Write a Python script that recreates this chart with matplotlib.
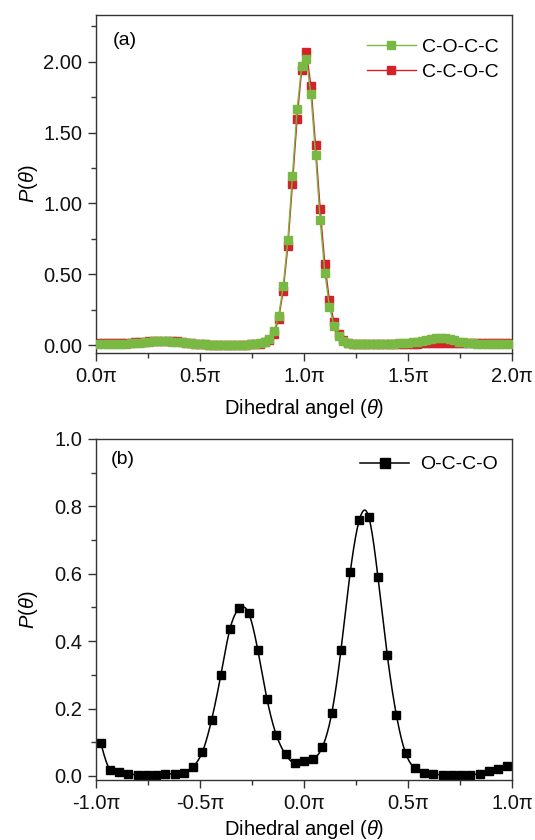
import numpy as np
import matplotlib
matplotlib.use("Agg")
import matplotlib.pyplot as plt
from matplotlib.ticker import MultipleLocator, FuncFormatter

plt.rcParams['font.family'] = ['Liberation Sans', 'DejaVu Sans']
plt.rcParams['mathtext.fontset'] = 'custom'
plt.rcParams['mathtext.rm'] = 'Liberation Sans'
plt.rcParams['mathtext.it'] = 'Liberation Sans:italic'

# ---------------- data: panel (a), angles in degrees (bin centres) ----------------
angles_a = np.arange(2, 360, 4)  # 90 bins
coc_c = np.array([  # C-O-C-C (green)
    0.009, 0.009, 0.009, 0.009, 0.010, 0.010, 0.011, 0.012, 0.014, 0.017,
    0.020, 0.023, 0.026, 0.028, 0.028, 0.027, 0.025, 0.022, 0.019, 0.016,
    0.013, 0.010, 0.008, 0.006, 0.004, 0.003, 0.002, 0.002, 0.002, 0.002,
    0.002, 0.003, 0.004, 0.006, 0.008, 0.012, 0.022, 0.044, 0.096, 0.202,
    0.414, 0.743, 1.195, 1.663, 1.971, 2.018, 1.769, 1.345, 0.880, 0.512,
    0.272, 0.136, 0.061, 0.030, 0.015, 0.010, 0.008, 0.008, 0.008, 0.008,
    0.008, 0.008, 0.009, 0.010, 0.011, 0.012, 0.014, 0.016, 0.019, 0.023,
    0.028, 0.035, 0.042, 0.047, 0.049, 0.047, 0.041, 0.033, 0.025, 0.019,
    0.015, 0.012, 0.011, 0.010, 0.009, 0.009, 0.009, 0.009, 0.009, 0.009])
ccoc = np.array([  # C-C-O-C (red)
    0.014, 0.014, 0.014, 0.014, 0.015, 0.015, 0.016, 0.017, 0.019, 0.022,
    0.025, 0.028, 0.031, 0.032, 0.032, 0.031, 0.029, 0.026, 0.022, 0.018,
    0.014, 0.011, 0.008, 0.006, 0.004, 0.003, 0.002, 0.002, 0.002, 0.002,
    0.003, 0.003, 0.004, 0.005, 0.007, 0.010, 0.020, 0.035, 0.080, 0.183,
    0.383, 0.696, 1.136, 1.597, 1.943, 2.070, 1.830, 1.410, 0.960, 0.574,
    0.315, 0.160, 0.075, 0.035, 0.018, 0.010, 0.007, 0.006, 0.006, 0.006,
    0.006, 0.006, 0.006, 0.006, 0.007, 0.007, 0.008, 0.009, 0.010, 0.011,
    0.013, 0.015, 0.017, 0.018, 0.018, 0.017, 0.015, 0.014, 0.013, 0.012,
    0.012, 0.012, 0.012, 0.012, 0.012, 0.012, 0.012, 0.012, 0.012, 0.012])

# ---------------- data: panel (b) ----------------
angles_b = np.arange(-176, 180, 8)  # 45 bins
occo = np.array([
    0.099, 0.018, 0.011, 0.006, 0.004, 0.003, 0.003, 0.005, 0.007, 0.010,
    0.028, 0.071, 0.166, 0.299, 0.437, 0.497, 0.484, 0.374, 0.228, 0.122,
    0.064, 0.038, 0.045, 0.050, 0.087, 0.186, 0.374, 0.604, 0.761, 0.769,
    0.590, 0.360, 0.180, 0.067, 0.023, 0.009, 0.005, 0.003, 0.002, 0.003,
    0.004, 0.007, 0.016, 0.022, 0.030])

xa = angles_a / 180.0
xb = angles_b / 180.0


def smooth_curve(x, y, n=1500):
    """Smooth drawing curve through the given points (natural cubic spline)."""
    x = np.asarray(x, float); y = np.asarray(y, float)
    m = len(x)
    h = np.diff(x)
    A = np.zeros((m, m)); r = np.zeros(m)
    A[0, 0] = 1; A[-1, -1] = 1
    for i in range(1, m - 1):
        A[i, i - 1] = h[i - 1]
        A[i, i] = 2 * (h[i - 1] + h[i])
        A[i, i + 1] = h[i]
        r[i] = 6 * ((y[i + 1] - y[i]) / h[i] - (y[i] - y[i - 1]) / h[i - 1])
    M = np.linalg.solve(A, r)
    xs = np.linspace(x[0], x[-1], n)
    idx = np.clip(np.searchsorted(x, xs) - 1, 0, m - 2)
    x0 = x[idx]; x1 = x[idx + 1]; hh = x1 - x0
    t0 = x1 - xs; t1 = xs - x0
    ys = (M[idx] * t0 ** 3 + M[idx + 1] * t1 ** 3) / (6 * hh) \
        + (y[idx] / hh - M[idx] * hh / 6) * t0 + (y[idx + 1] / hh - M[idx + 1] * hh / 6) * t1
    return xs, ys


GREEN = '#78b843'
RED = '#d2232a'
FS_TICK = 14.5
FS_LABEL = 14.5
FS_LEG = 14

fig = plt.figure(figsize=(5.35, 8.4), dpi=100)
L, W = 96 / 535, 416 / 535
ax1 = fig.add_axes([L, 1 - 353 / 840, W, 338 / 840])
ax2 = fig.add_axes([L, 1 - 780 / 840, W, 341 / 840])

pi_fmt = FuncFormatter(lambda v, p: f"{v:.1f}\u03c0")


def style(ax):
    for s in ax.spines.values():
        s.set_linewidth(1.0)
        s.set_color('#333333')
    ax.tick_params(which='both', direction='out', top=False, right=False,
                   labelsize=FS_TICK, colors='#333333', labelcolor='#111111')
    ax.tick_params(which='major', length=6, width=1.0, pad=4)
    ax.tick_params(which='minor', length=3.5, width=1.0)
    ax.xaxis.set_major_formatter(pi_fmt)


# ---- panel (a)
lr, = ax1.plot(xa, ccoc, '-', color=RED, lw=1.0, marker='s', ms=6,
               mec=RED, mfc=RED, label='C-C-O-C', zorder=2)
lg, = ax1.plot(xa, coc_c, '-', color=GREEN, lw=1.0, marker='s', ms=6,
               mec=GREEN, mfc=GREEN, label='C-O-C-C', zorder=3)
ax1.set_xlim(0, 2)
ax1.set_ylim(-0.056, 2.33)
ax1.xaxis.set_major_locator(MultipleLocator(0.5))
ax1.xaxis.set_minor_locator(MultipleLocator(0.25))
ax1.yaxis.set_major_locator(MultipleLocator(0.5))
ax1.yaxis.set_minor_locator(MultipleLocator(0.25))
ax1.yaxis.set_major_formatter(FuncFormatter(lambda v, p: f"{v:.2f}"))
style(ax1)
ax1.set_xlabel('Dihedral angel ($\\mathit{\\theta}$)', fontsize=FS_LABEL)
ax1.set_ylabel('$\\mathit{P}$($\\mathit{\\theta}$)', fontsize=FS_LABEL)
ax1.xaxis.set_label_coords(0.5, -0.13)
ax1.yaxis.set_label_coords(-0.135, 0.5)
ax1.text(0.04, 0.925, '(a)', transform=ax1.transAxes, fontsize=FS_LEG, va='center')
ax1.legend(handles=[lg, lr], loc='upper right', frameon=False, fontsize=FS_LEG,
           handlelength=2.5, handletextpad=0.3, borderaxespad=0.2,
           labelspacing=0.35, bbox_to_anchor=(0.995, 0.965))

# ---- panel (b)
xs, ys = smooth_curve(xb, occo)
ax2.plot(xs, ys, '-', color='black', lw=1.1)
ax2.plot(xb, occo, 's', color='black', ms=6)
hb, = ax2.plot([], [], '-', color='black', lw=1.1, marker='s', ms=6.5, label='O-C-C-O')
ax2.set_xlim(-1, 1)
ax2.set_ylim(-0.012, 1.0)
ax2.xaxis.set_major_locator(MultipleLocator(0.5))
ax2.xaxis.set_minor_locator(MultipleLocator(0.25))
ax2.yaxis.set_major_locator(MultipleLocator(0.2))
ax2.yaxis.set_minor_locator(MultipleLocator(0.1))
ax2.yaxis.set_major_formatter(FuncFormatter(lambda v, p: f"{v:.1f}"))
style(ax2)
ax2.set_xlabel('Dihedral angel ($\\mathit{\\theta}$)', fontsize=FS_LABEL)
ax2.set_ylabel('$\\mathit{P}$($\\mathit{\\theta}$)', fontsize=FS_LABEL)
ax2.xaxis.set_label_coords(0.5, -0.11)
ax2.yaxis.set_label_coords(-0.135, 0.5)
ax2.text(0.035, 0.94, '(b)', transform=ax2.transAxes, fontsize=FS_LEG, va='center')
ax2.legend(handles=[hb], loc='upper right', frameon=False, fontsize=FS_LEG,
           handlelength=2.5, handletextpad=0.6, borderaxespad=0.2,
           bbox_to_anchor=(0.995, 0.985))

fig.savefig('out.png', dpi=100)
